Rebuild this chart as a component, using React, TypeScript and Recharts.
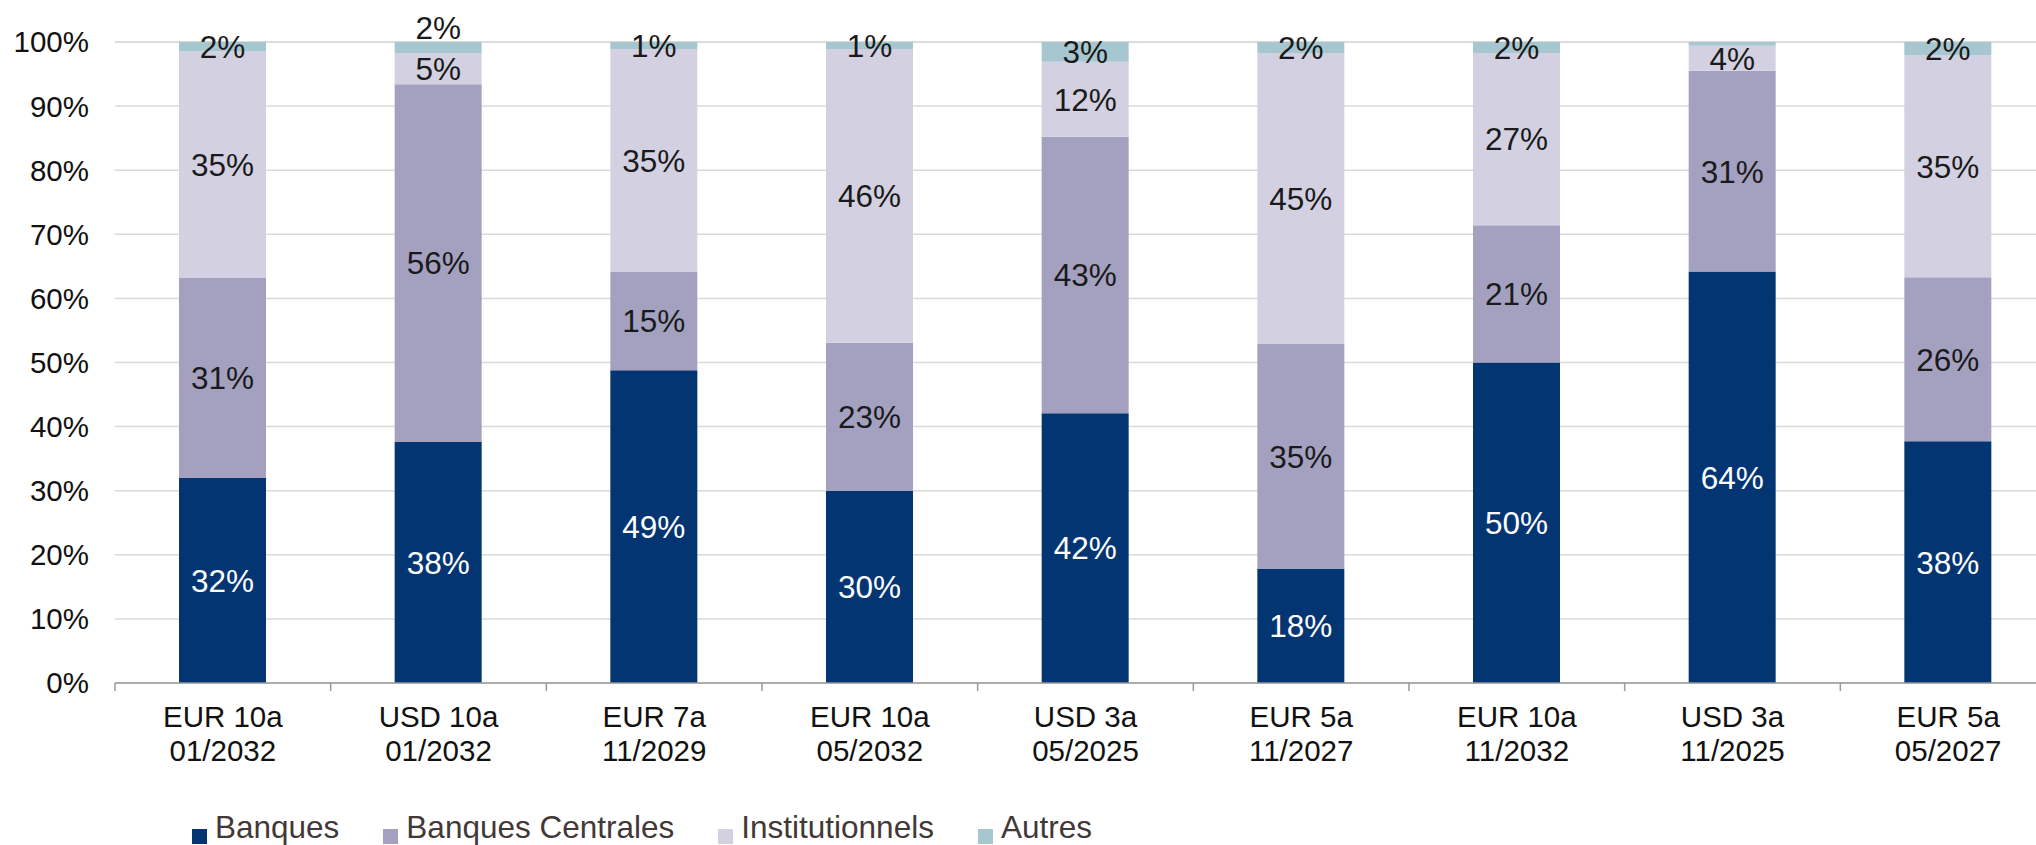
import React from 'react';
import { BarChart, Bar, XAxis, YAxis, CartesianGrid, LabelList, Legend } from 'recharts';

const categories = [
  ['EUR 10a', '01/2032'],
  ['USD 10a', '01/2032'],
  ['EUR 7a', '11/2029'],
  ['EUR 10a', '05/2032'],
  ['USD 3a', '05/2025'],
  ['EUR 5a', '11/2027'],
  ['EUR 10a', '11/2032'],
  ['USD 3a', '11/2025'],
  ['EUR 5a', '05/2027'],
];
const banques = [32.0, 37.6, 48.8, 30.0, 42.1, 17.8, 50.0, 64.2, 37.7];
const banquesCentrales = [31.2, 55.8, 15.4, 23.1, 43.1, 35.1, 21.4, 31.3, 25.6];
const institutionnels = [35.3, 4.9, 34.7, 45.8, 11.7, 45.4, 26.9, 3.9, 34.6];
const autres = [1.5, 1.7, 1.1, 1.1, 3.1, 1.7, 1.7, 0.6, 2.1];
const yTicks = [0, 10, 20, 30, 40, 50, 60, 70, 80, 90, 100];

const seriesNames = ['Banques', 'Banques Centrales', 'Institutionnels', 'Autres'];
const seriesKeys = ['banques', 'bc', 'inst', 'autres'];
const colors = ['#023572', '#A4A1C0', '#D3D1E1', '#A7C7D0'];

const data = categories.map((c, i) => ({
  name: c[0] + '\n' + c[1],
  l1: c[0],
  l2: c[1],
  banques: banques[i],
  bc: banquesCentrales[i],
  inst: institutionnels[i],
  autres: autres[i],
}));

const FONT = '"Liberation Sans", Arial, sans-serif';
const CHART_W = 2056;
const CHART_H = 845;
const Y_W = 115;
const M = { top: 42, right: 0, left: 0, bottom: 62 };
const BAND = (CHART_W - Y_W - M.left - M.right) / categories.length;

const XTick = (props: any) => {
  const { x, y, payload, index } = props;
  const d = data[index] || data.find((r) => r.name === payload.value);
  return (
    <g>
      <line x1={x - BAND / 2} x2={x - BAND / 2} y1={y} y2={y + 8} stroke="#9a9a9a" strokeWidth={1.5} />
      <text x={x} y={y + 44} textAnchor="middle" fontSize={29.5} fontFamily={FONT} fill="#111">
        {d ? d.l1 : ''}
      </text>
      <text x={x} y={y + 78} textAnchor="middle" fontSize={29.5} fontFamily={FONT} fill="#111">
        {d ? d.l2 : ''}
      </text>
    </g>
  );
};

const makeLabel = (color: string, seriesIdx: number) => (props: any) => {
  const { x, y, width, height, value, index } = props;
  if (value == null || value < 1) return null;
  let cy = y + height / 2;
  if (seriesIdx === 3 && index === 1) cy -= 20;
  return (
    <text
      x={x + width / 2}
      y={cy}
      dy="0.36em"
      textAnchor="middle"
      fontSize={31.5}
      fontFamily={FONT}
      fill={color}
    >
      {Math.round(value) + '%'}
    </text>
  );
};

const LegendContent = () => (
  <div style={{ display: 'flex', fontFamily: FONT, fontSize: 31.5, lineHeight: '36px', color: '#433838', paddingLeft: 192 }}>
    {seriesNames.map((n, i) => (
      <div key={n} style={{ display: 'flex', alignItems: 'flex-start', marginRight: 44 }}>
        <span style={{ display: 'inline-block', width: 15, height: 15, background: colors[i], marginTop: 20, marginRight: 8 }} />
        <span>{n}</span>
      </div>
    ))}
  </div>
);

export default function App() {
  return (
    <div style={{ position: 'fixed', left: 0, top: 0, width: 2036, height: 845, overflow: 'hidden', background: '#fff' }}>
      <BarChart width={CHART_W} height={CHART_H} data={data} margin={M} barSize={87}>
        <CartesianGrid vertical={false} stroke="#dadada" strokeWidth={1.5} />
        <XAxis
          dataKey="name"
          interval={0}
          height={100}
          tickLine={false}
          tickSize={0}
          tickMargin={0}
          axisLine={{ stroke: '#9a9a9a', strokeWidth: 1.5 }}
          tick={<XTick />}
        />
        <YAxis
          width={Y_W}
          domain={[0, 100]}
          ticks={yTicks}
          interval={0}
          axisLine={false}
          tickLine={false}
          tickSize={0}
          tickMargin={26}
          tickFormatter={(v: number) => v + '%'}
          tick={{ fontSize: 29.5, fontFamily: FONT, fill: '#111' }}
        />
        <Legend
          layout="horizontal"
          verticalAlign="middle"
          wrapperStyle={{ position: 'absolute', top: 809, left: 0, width: 2036 }}
          content={<LegendContent />}
        />
        {seriesKeys.map((k, i) => (
          <Bar key={k} dataKey={k} name={seriesNames[i]} stackId="a" fill={colors[i]} isAnimationActive={false}>
            <LabelList dataKey={k} content={makeLabel(i === 0 ? '#ffffff' : '#1a1a1a', i)} />
          </Bar>
        ))}
      </BarChart>
    </div>
  );
}
